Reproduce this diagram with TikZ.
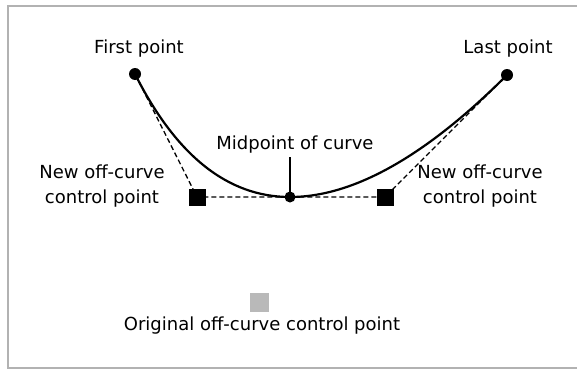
\documentclass[tikz,border=0pt]{standalone}
\usepackage{fontspec}
\setmainfont{DejaVu Sans}
\usetikzlibrary{calc,positioning}
\tikzset{
  onpt/.style={circle, fill=black, inner sep=0pt, minimum size=12pt},
  newctl/.style={rectangle, fill=black, inner sep=0pt, minimum size=17pt},
  oldctl/.style={rectangle, fill=gray!55, inner sep=0pt, minimum size=19pt},
  lbl/.style={font=\fontsize{18}{25}\selectfont, inner sep=0pt, align=center, anchor=base},
  hull/.style={dash pattern=on 5pt off 3pt, line width=1.3pt},
  curveline/.style={line width=2.2pt, line join=round},
}
\begin{document}
\begin{tikzpicture}[x=1pt, y=-1pt]
  \useasboundingbox (0,0) rectangle (577,369);
  % frame
  \draw[gray!60, line width=1.5pt] (577,6) -- (8,6) -- (8,368) -- (577,368);

  % points (pixel coordinates, y downwards)
  \coordinate (first) at (135,74);
  \coordinate (last) at (507,75);
  \coordinate (mid) at (290,197);
  \coordinate (lctl) at (197,197);
  \coordinate (rctl) at (385,197);
  \coordinate (orig) at (259,302);
  \coordinate (midtick) at (290,157);

  % control polygon
  \draw[hull] (first) -- (lctl) -- (mid) -- (rctl) -- (last);

  % the two quadratic pieces
  \draw[curveline] (first)
    .. controls ($(first)!2/3!(lctl)$) and ($(mid)!2/3!(lctl)$) .. (mid)
    .. controls ($(mid)!2/3!(rctl)$) and ($(last)!2/3!(rctl)$) .. (last);
  \draw[line width=1.2pt] (midtick) -- (mid);

  % markers
  \node[onpt] (firstdot) at (first) {};
  \node[onpt] (lastdot) at (last) {};
  \node[onpt, minimum size=11pt] (middot) at (mid) {};
  \node[newctl] (lctlbox) at (lctl) {};
  \node[newctl] (rctlbox) at (rctl) {};
  \node[oldctl] (origbox) at (orig) {};

  % labels
  \node[lbl] (firstlab) at (139,53) {First point};
  \node[lbl] (lastlab) at (508,53) {Last point};
  \node[lbl] (midlab) at (295,149) {Midpoint of curve};
  \node[lbl] (lctllab) at (102,203) {New off-curve\\control point};
  \node[lbl] (rctllab) at (480,203) {New off-curve\\control point};
  \node[lbl] (origlab) at (262,330) {Original off-curve control point};
\end{tikzpicture}
\end{document}
